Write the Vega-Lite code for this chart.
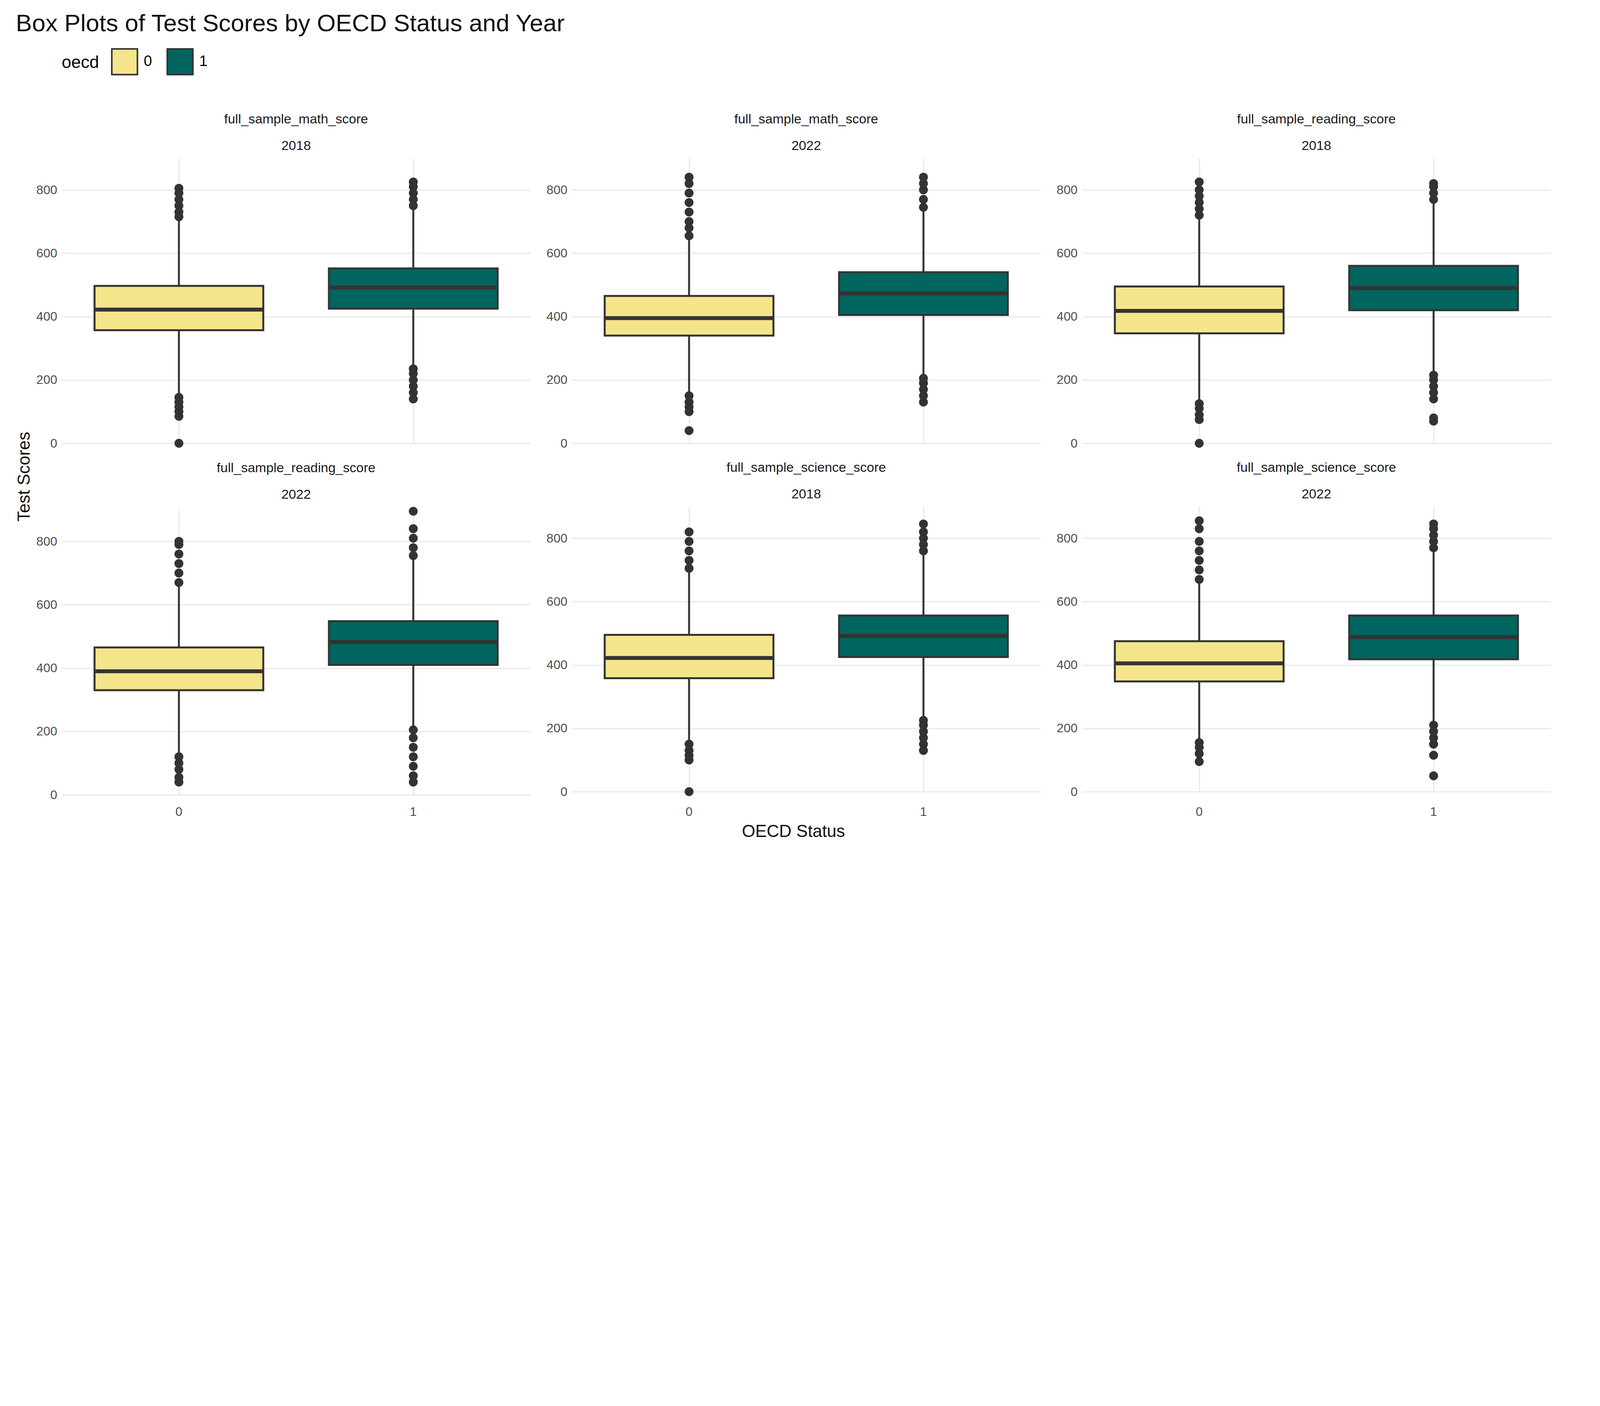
{
"$schema":"https://vega.github.io/schema/vega-lite/v6.json",
"background":"white",
"padding":{"left":40,"top":30,"right":40,"bottom":30},
"title":{"text":"Box Plots of Test Scores by OECD Status and Year","anchor":"start","fontSize":62,"font":"Liberation Sans","fontWeight":"normal","color":"#111","offset":30},
"config":{"font":"Liberation Sans","view":{"stroke":null},
"axis":{"labelFontSize":32,"labelColor":"#4d4d4d","gridColor":"#ebebeb","gridWidth":3.5,"domain":false,"ticks":false,"labelPadding":12},
"legend":{"orient":"top","titleFontSize":44,"labelFontSize":38,"titleFontWeight":"normal","titleOrient":"left","symbolSize":4300,"symbolType":"square","symbolStrokeColor":"#333","symbolStrokeWidth":4,"columnPadding":30,"offset":90,"titlePadding":30,"labelOffset":14}},
"datasets":{"d":[
{"panel":"full_sample_math_score|2018","oecd":"0","k":"box","q1":357,"med":422,"q3":497,"lo":147,"hi":707},
{"panel":"full_sample_math_score|2018","oecd":"1","k":"box","q1":425,"med":492,"q3":552,"lo":240,"hi":742},
{"panel":"full_sample_math_score|2022","oecd":"0","k":"box","q1":340,"med":395,"q3":465,"lo":155,"hi":650},
{"panel":"full_sample_math_score|2022","oecd":"1","k":"box","q1":405,"med":473,"q3":540,"lo":210,"hi":740},
{"panel":"full_sample_reading_score|2018","oecd":"0","k":"box","q1":347,"med":418,"q3":495,"lo":130,"hi":715},
{"panel":"full_sample_reading_score|2018","oecd":"1","k":"box","q1":420,"med":490,"q3":560,"lo":220,"hi":765},
{"panel":"full_sample_reading_score|2022","oecd":"0","k":"box","q1":330,"med":390,"q3":465,"lo":130,"hi":665},
{"panel":"full_sample_reading_score|2022","oecd":"1","k":"box","q1":410,"med":482,"q3":548,"lo":210,"hi":750},
{"panel":"full_sample_science_score|2018","oecd":"0","k":"box","q1":358,"med":422,"q3":495,"lo":160,"hi":700},
{"panel":"full_sample_science_score|2018","oecd":"1","k":"box","q1":425,"med":492,"q3":556,"lo":230,"hi":755},
{"panel":"full_sample_science_score|2022","oecd":"0","k":"box","q1":348,"med":405,"q3":475,"lo":160,"hi":665},
{"panel":"full_sample_science_score|2022","oecd":"1","k":"box","q1":418,"med":488,"q3":556,"lo":215,"hi":765},
{"panel":"full_sample_math_score|2018","oecd":"0","k":"out","v":0},{"panel":"full_sample_math_score|2018","oecd":"0","k":"out","v":85},{"panel":"full_sample_math_score|2018","oecd":"0","k":"out","v":100},{"panel":"full_sample_math_score|2018","oecd":"0","k":"out","v":115},{"panel":"full_sample_math_score|2018","oecd":"0","k":"out","v":130},{"panel":"full_sample_math_score|2018","oecd":"0","k":"out","v":145},{"panel":"full_sample_math_score|2018","oecd":"0","k":"out","v":715},{"panel":"full_sample_math_score|2018","oecd":"0","k":"out","v":730},{"panel":"full_sample_math_score|2018","oecd":"0","k":"out","v":750},{"panel":"full_sample_math_score|2018","oecd":"0","k":"out","v":770},{"panel":"full_sample_math_score|2018","oecd":"0","k":"out","v":790},{"panel":"full_sample_math_score|2018","oecd":"0","k":"out","v":805},
{"panel":"full_sample_math_score|2018","oecd":"1","k":"out","v":140},{"panel":"full_sample_math_score|2018","oecd":"1","k":"out","v":160},{"panel":"full_sample_math_score|2018","oecd":"1","k":"out","v":180},{"panel":"full_sample_math_score|2018","oecd":"1","k":"out","v":200},{"panel":"full_sample_math_score|2018","oecd":"1","k":"out","v":220},{"panel":"full_sample_math_score|2018","oecd":"1","k":"out","v":235},{"panel":"full_sample_math_score|2018","oecd":"1","k":"out","v":750},{"panel":"full_sample_math_score|2018","oecd":"1","k":"out","v":770},{"panel":"full_sample_math_score|2018","oecd":"1","k":"out","v":790},{"panel":"full_sample_math_score|2018","oecd":"1","k":"out","v":810},{"panel":"full_sample_math_score|2018","oecd":"1","k":"out","v":825},
{"panel":"full_sample_math_score|2022","oecd":"0","k":"out","v":40},{"panel":"full_sample_math_score|2022","oecd":"0","k":"out","v":100},{"panel":"full_sample_math_score|2022","oecd":"0","k":"out","v":115},{"panel":"full_sample_math_score|2022","oecd":"0","k":"out","v":130},{"panel":"full_sample_math_score|2022","oecd":"0","k":"out","v":150},{"panel":"full_sample_math_score|2022","oecd":"0","k":"out","v":655},{"panel":"full_sample_math_score|2022","oecd":"0","k":"out","v":680},{"panel":"full_sample_math_score|2022","oecd":"0","k":"out","v":700},{"panel":"full_sample_math_score|2022","oecd":"0","k":"out","v":730},{"panel":"full_sample_math_score|2022","oecd":"0","k":"out","v":760},{"panel":"full_sample_math_score|2022","oecd":"0","k":"out","v":790},{"panel":"full_sample_math_score|2022","oecd":"0","k":"out","v":820},{"panel":"full_sample_math_score|2022","oecd":"0","k":"out","v":840},
{"panel":"full_sample_math_score|2022","oecd":"1","k":"out","v":130},{"panel":"full_sample_math_score|2022","oecd":"1","k":"out","v":150},{"panel":"full_sample_math_score|2022","oecd":"1","k":"out","v":170},{"panel":"full_sample_math_score|2022","oecd":"1","k":"out","v":190},{"panel":"full_sample_math_score|2022","oecd":"1","k":"out","v":205},{"panel":"full_sample_math_score|2022","oecd":"1","k":"out","v":745},{"panel":"full_sample_math_score|2022","oecd":"1","k":"out","v":770},{"panel":"full_sample_math_score|2022","oecd":"1","k":"out","v":800},{"panel":"full_sample_math_score|2022","oecd":"1","k":"out","v":820},{"panel":"full_sample_math_score|2022","oecd":"1","k":"out","v":840},
{"panel":"full_sample_reading_score|2018","oecd":"0","k":"out","v":0},{"panel":"full_sample_reading_score|2018","oecd":"0","k":"out","v":75},{"panel":"full_sample_reading_score|2018","oecd":"0","k":"out","v":90},{"panel":"full_sample_reading_score|2018","oecd":"0","k":"out","v":110},{"panel":"full_sample_reading_score|2018","oecd":"0","k":"out","v":125},{"panel":"full_sample_reading_score|2018","oecd":"0","k":"out","v":720},{"panel":"full_sample_reading_score|2018","oecd":"0","k":"out","v":740},{"panel":"full_sample_reading_score|2018","oecd":"0","k":"out","v":760},{"panel":"full_sample_reading_score|2018","oecd":"0","k":"out","v":780},{"panel":"full_sample_reading_score|2018","oecd":"0","k":"out","v":800},{"panel":"full_sample_reading_score|2018","oecd":"0","k":"out","v":825},
{"panel":"full_sample_reading_score|2018","oecd":"1","k":"out","v":70},{"panel":"full_sample_reading_score|2018","oecd":"1","k":"out","v":80},{"panel":"full_sample_reading_score|2018","oecd":"1","k":"out","v":140},{"panel":"full_sample_reading_score|2018","oecd":"1","k":"out","v":160},{"panel":"full_sample_reading_score|2018","oecd":"1","k":"out","v":180},{"panel":"full_sample_reading_score|2018","oecd":"1","k":"out","v":200},{"panel":"full_sample_reading_score|2018","oecd":"1","k":"out","v":215},{"panel":"full_sample_reading_score|2018","oecd":"1","k":"out","v":770},{"panel":"full_sample_reading_score|2018","oecd":"1","k":"out","v":790},{"panel":"full_sample_reading_score|2018","oecd":"1","k":"out","v":810},{"panel":"full_sample_reading_score|2018","oecd":"1","k":"out","v":820},
{"panel":"full_sample_reading_score|2022","oecd":"0","k":"out","v":40},{"panel":"full_sample_reading_score|2022","oecd":"0","k":"out","v":55},{"panel":"full_sample_reading_score|2022","oecd":"0","k":"out","v":80},{"panel":"full_sample_reading_score|2022","oecd":"0","k":"out","v":100},{"panel":"full_sample_reading_score|2022","oecd":"0","k":"out","v":120},{"panel":"full_sample_reading_score|2022","oecd":"0","k":"out","v":670},{"panel":"full_sample_reading_score|2022","oecd":"0","k":"out","v":700},{"panel":"full_sample_reading_score|2022","oecd":"0","k":"out","v":730},{"panel":"full_sample_reading_score|2022","oecd":"0","k":"out","v":760},{"panel":"full_sample_reading_score|2022","oecd":"0","k":"out","v":790},{"panel":"full_sample_reading_score|2022","oecd":"0","k":"out","v":800},
{"panel":"full_sample_reading_score|2022","oecd":"1","k":"out","v":40},{"panel":"full_sample_reading_score|2022","oecd":"1","k":"out","v":60},{"panel":"full_sample_reading_score|2022","oecd":"1","k":"out","v":90},{"panel":"full_sample_reading_score|2022","oecd":"1","k":"out","v":120},{"panel":"full_sample_reading_score|2022","oecd":"1","k":"out","v":150},{"panel":"full_sample_reading_score|2022","oecd":"1","k":"out","v":180},{"panel":"full_sample_reading_score|2022","oecd":"1","k":"out","v":205},{"panel":"full_sample_reading_score|2022","oecd":"1","k":"out","v":755},{"panel":"full_sample_reading_score|2022","oecd":"1","k":"out","v":780},{"panel":"full_sample_reading_score|2022","oecd":"1","k":"out","v":810},{"panel":"full_sample_reading_score|2022","oecd":"1","k":"out","v":840},{"panel":"full_sample_reading_score|2022","oecd":"1","k":"out","v":895},
{"panel":"full_sample_science_score|2018","oecd":"0","k":"out","v":0},{"panel":"full_sample_science_score|2018","oecd":"0","k":"out","v":100},{"panel":"full_sample_science_score|2018","oecd":"0","k":"out","v":115},{"panel":"full_sample_science_score|2018","oecd":"0","k":"out","v":130},{"panel":"full_sample_science_score|2018","oecd":"0","k":"out","v":150},{"panel":"full_sample_science_score|2018","oecd":"0","k":"out","v":705},{"panel":"full_sample_science_score|2018","oecd":"0","k":"out","v":730},{"panel":"full_sample_science_score|2018","oecd":"0","k":"out","v":760},{"panel":"full_sample_science_score|2018","oecd":"0","k":"out","v":790},{"panel":"full_sample_science_score|2018","oecd":"0","k":"out","v":820},
{"panel":"full_sample_science_score|2018","oecd":"1","k":"out","v":130},{"panel":"full_sample_science_score|2018","oecd":"1","k":"out","v":150},{"panel":"full_sample_science_score|2018","oecd":"1","k":"out","v":170},{"panel":"full_sample_science_score|2018","oecd":"1","k":"out","v":190},{"panel":"full_sample_science_score|2018","oecd":"1","k":"out","v":210},{"panel":"full_sample_science_score|2018","oecd":"1","k":"out","v":225},{"panel":"full_sample_science_score|2018","oecd":"1","k":"out","v":760},{"panel":"full_sample_science_score|2018","oecd":"1","k":"out","v":780},{"panel":"full_sample_science_score|2018","oecd":"1","k":"out","v":800},{"panel":"full_sample_science_score|2018","oecd":"1","k":"out","v":820},{"panel":"full_sample_science_score|2018","oecd":"1","k":"out","v":845},
{"panel":"full_sample_science_score|2022","oecd":"0","k":"out","v":95},{"panel":"full_sample_science_score|2022","oecd":"0","k":"out","v":120},{"panel":"full_sample_science_score|2022","oecd":"0","k":"out","v":140},{"panel":"full_sample_science_score|2022","oecd":"0","k":"out","v":155},{"panel":"full_sample_science_score|2022","oecd":"0","k":"out","v":670},{"panel":"full_sample_science_score|2022","oecd":"0","k":"out","v":700},{"panel":"full_sample_science_score|2022","oecd":"0","k":"out","v":730},{"panel":"full_sample_science_score|2022","oecd":"0","k":"out","v":760},{"panel":"full_sample_science_score|2022","oecd":"0","k":"out","v":790},{"panel":"full_sample_science_score|2022","oecd":"0","k":"out","v":830},{"panel":"full_sample_science_score|2022","oecd":"0","k":"out","v":855},
{"panel":"full_sample_science_score|2022","oecd":"1","k":"out","v":50},{"panel":"full_sample_science_score|2022","oecd":"1","k":"out","v":115},{"panel":"full_sample_science_score|2022","oecd":"1","k":"out","v":150},{"panel":"full_sample_science_score|2022","oecd":"1","k":"out","v":170},{"panel":"full_sample_science_score|2022","oecd":"1","k":"out","v":190},{"panel":"full_sample_science_score|2022","oecd":"1","k":"out","v":210},{"panel":"full_sample_science_score|2022","oecd":"1","k":"out","v":770},{"panel":"full_sample_science_score|2022","oecd":"1","k":"out","v":790},{"panel":"full_sample_science_score|2022","oecd":"1","k":"out","v":810},{"panel":"full_sample_science_score|2022","oecd":"1","k":"out","v":830},{"panel":"full_sample_science_score|2022","oecd":"1","k":"out","v":845}
]},
"vconcat":[{
"title":{"text":"Test Scores","orient":"left","fontSize":44,"fontWeight":"normal","color":"#111","anchor":"middle","offset":8},
"hconcat":[{
"title":{"text":"OECD Status","orient":"bottom","fontSize":44,"fontWeight":"normal","color":"#111","anchor":"middle","offset":14},
"data":{"name":"d"},
"facet":{"field":"panel","type":"nominal","header":{"title":null,"labelExpr":"split(datum.value,'|')","labelFontSize":34,"labelColor":"#1a1a1a","labelLineHeight":68,"labelPadding":14}},
"columns":3,
"spacing":{"row":30,"column":40},
"resolve":{"scale":{"y":"independent"}},
"spec":{
"width":1200,"height":730,
"encoding":{"x":{"field":"oecd","type":"nominal","title":null,"scale":{"paddingInner":0.28,"paddingOuter":0.14},"axis":{"labelAngle":0,"grid":true}}},
"layer":[
{"transform":[{"filter":"datum.k=='box'"}],"mark":{"type":"rule","color":"#333","strokeWidth":5},
"encoding":{"y":{"field":"lo","type":"quantitative","scale":{"zero":false,"nice":true},"title":null,"axis":{"tickCount":5}},"y2":{"field":"hi"}}},
{"transform":[{"filter":"datum.k=='box'"}],"mark":{"type":"bar","stroke":"#333","strokeWidth":5},
"encoding":{"y":{"field":"q1","type":"quantitative"},"y2":{"field":"q3"},
"fill":{"field":"oecd","type":"nominal","title":"oecd","scale":{"domain":["0","1"],"range":["#F5E58A","#00655F"]}}}},
{"transform":[{"filter":"datum.k=='box'"}],"mark":{"type":"tick","color":"#333","opacity":1,"thickness":10,"size":430},
"encoding":{"y":{"field":"med","type":"quantitative"}}},
{"transform":[{"filter":"datum.k=='out'"}],"mark":{"type":"circle","color":"#333","opacity":1,"size":520},
"encoding":{"y":{"field":"v","type":"quantitative"}}}
]}
}]}]
}
